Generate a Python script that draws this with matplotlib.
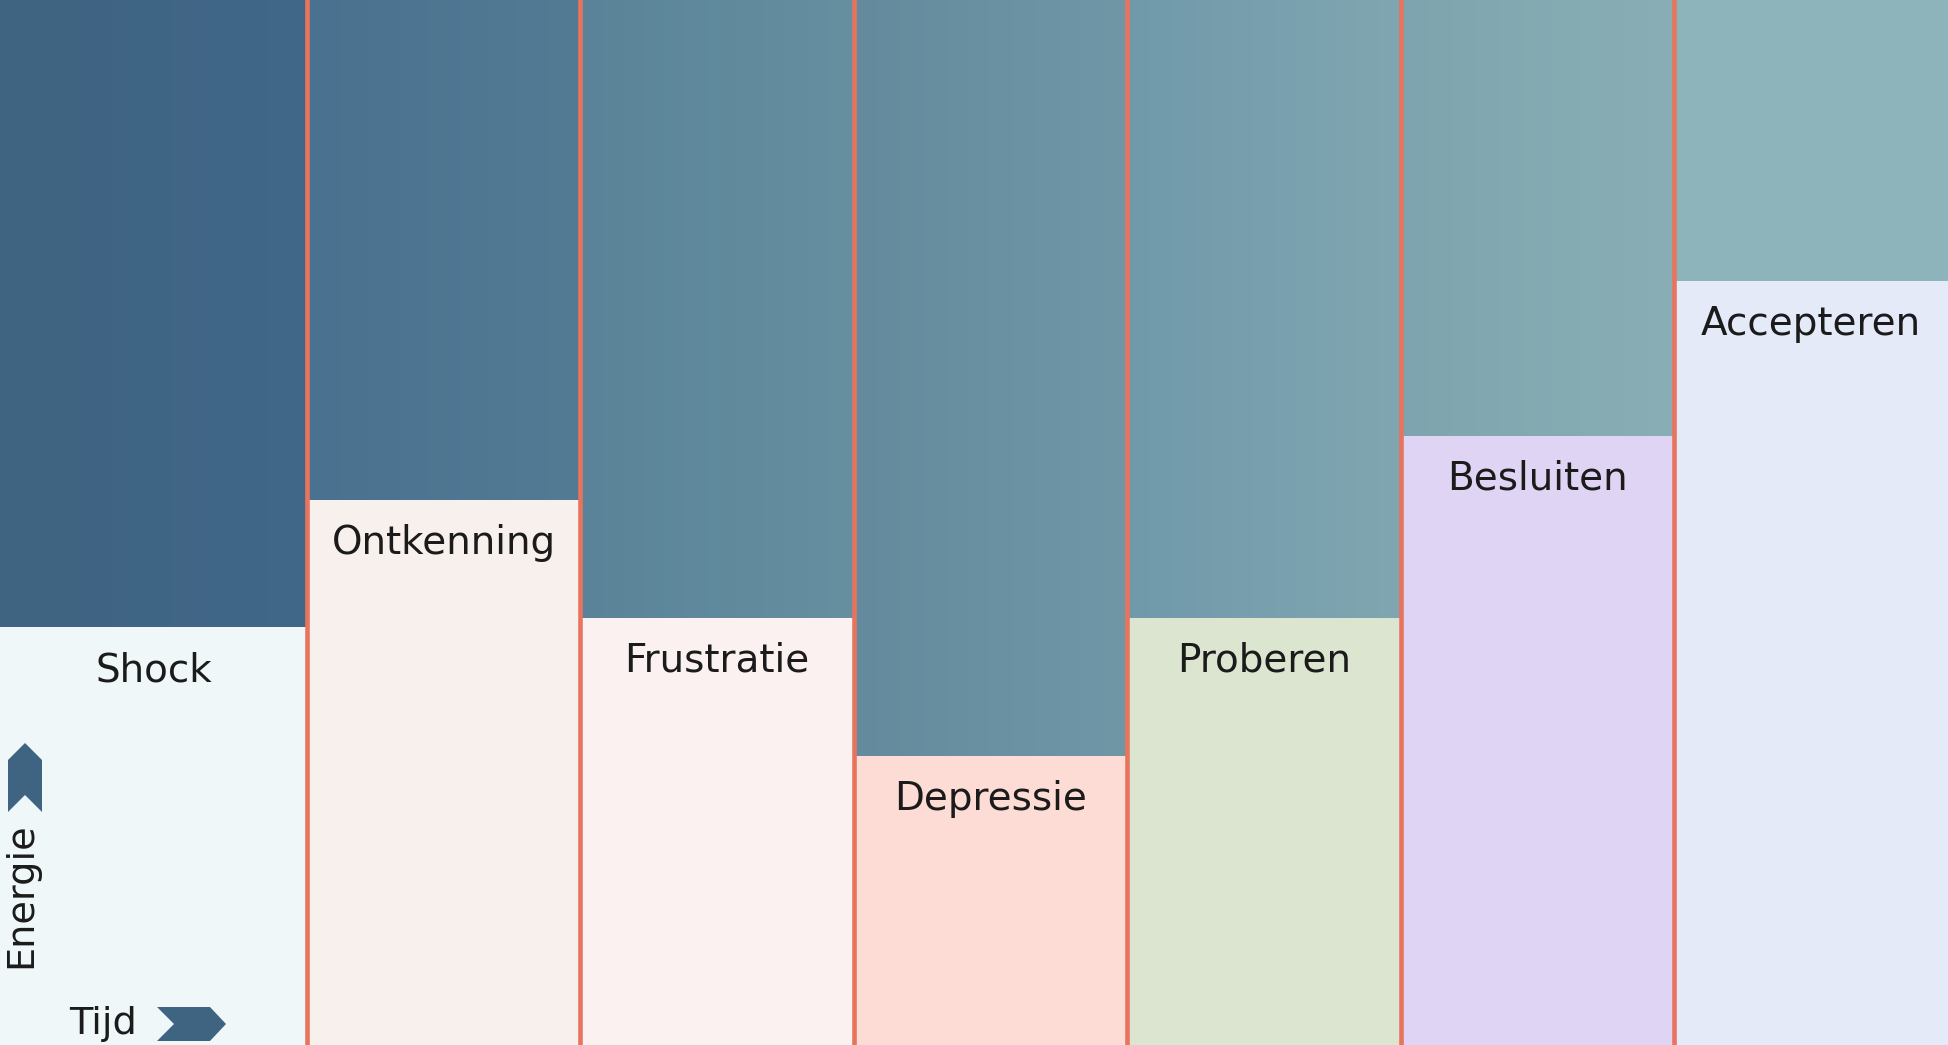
import numpy as np
import matplotlib
matplotlib.use("Agg")
import matplotlib.pyplot as plt
from matplotlib.patches import Polygon
from matplotlib.colors import to_rgb

# ─── Data ─────────────────────────────────────────────────────────────────────
fasen = ["Shock", "Ontkenning", "Frustratie", "Depressie",
         "Proberen", "Besluiten", "Accepteren"]
energie = [40.0, 52.2, 40.9, 27.7, 40.9, 58.3, 73.1]   # % van de hoogte

# ─── Stijl ────────────────────────────────────────────────────────────────────
kleur_paneel = ["#eff7f9", "#f8f0ed", "#fbf1f1", "#fcdcd5",
                "#dce5cf", "#e0d4f4", "#e5eaf9"]
kleur_achter = [("#3f6482", "#416789"), ("#4a7290", "#537b94"),
                ("#5a8399", "#6690a0"), ("#648b9d", "#7097a6"),
                ("#7099aa", "#80a6b1"), ("#7ea5af", "#89aeb5"),
                ("#8db4ba", "#8db5bb")]
ORANJE = "#e8745e"
DONKER = "#3f6482"
TEKST = "#1b1b1b"
W, H = 1948, 1045

fig = plt.figure(figsize=(W / 100, H / 100), dpi=100)
ax = fig.add_axes([0, 0, 1, 1])
x_links = -0.622
x_rechts = len(fasen) - 0.5
x = np.arange(len(fasen))

# achtergrond: verloop per kolom
n_per_kol = 60
rij = []
for links, rechts in kleur_achter:
    a, b = np.array(to_rgb(links)), np.array(to_rgb(rechts))
    t = np.linspace(0, 1, n_per_kol)[:, None]
    rij.append(a + (b - a) * t)
beeld = np.concatenate(rij)[None, :, :]
ax.imshow(beeld, extent=(-0.5, x_rechts, 0, 100), aspect="auto",
          interpolation="bilinear", zorder=0)
ax.axvspan(x_links, -0.5, color=kleur_achter[0][0], lw=0, zorder=0)

# eerste kolom loopt door tot de linkerrand
randen = np.r_[x_links, x[1:] - 0.5, x_rechts]
ax.bar(randen[:-1], energie, width=np.diff(randen), align="edge",
       color=kleur_paneel, linewidth=0, zorder=2)

for grens in x[:-1] + 0.5:
    ax.axvline(grens, color=ORANJE, lw=3.3, zorder=3)

for i, (naam, e) in enumerate(zip(fasen, energie)):
    xc = (randen[i] + randen[i + 1]) / 2
    ax.annotate(naam, (xc, e), xytext=(0, -31), textcoords="offset points",
                ha="center", va="center", fontsize=28, color=TEKST,
                zorder=4)

ax.set_xlim(x_links, x_rechts)
ax.set_ylim(0, 100)
ax.axis("off")


# ─── As-aanduidingen (linksonder) ────────────────────────────────────────────
def px(pts):
    return [(a / W, 1 - b / H) for a, b in pts]


pijl_op = [(8, 760), (25, 743), (42, 760), (42, 812), (25, 795), (8, 812)]
pijl_rechts = [(157, 1007), (210, 1007), (226, 1024), (210, 1041),
               (157, 1041), (174, 1024)]
for vorm in (pijl_op, pijl_rechts):
    ax.add_patch(Polygon(px(vorm), closed=True, facecolor=DONKER,
                         edgecolor="none", transform=fig.transFigure,
                         zorder=5))

ax.text(21 / W, 1 - 895 / H, "Energie", rotation=90, ha="center",
        va="center", fontsize=27.5, color=TEKST, transform=fig.transFigure,
        zorder=5)
ax.text(103 / W, 1 - 1024 / H, "Tijd", ha="center", va="center",
        fontsize=27.5, color=TEKST, transform=fig.transFigure, zorder=5)

fig.savefig("out.png", dpi=100)
